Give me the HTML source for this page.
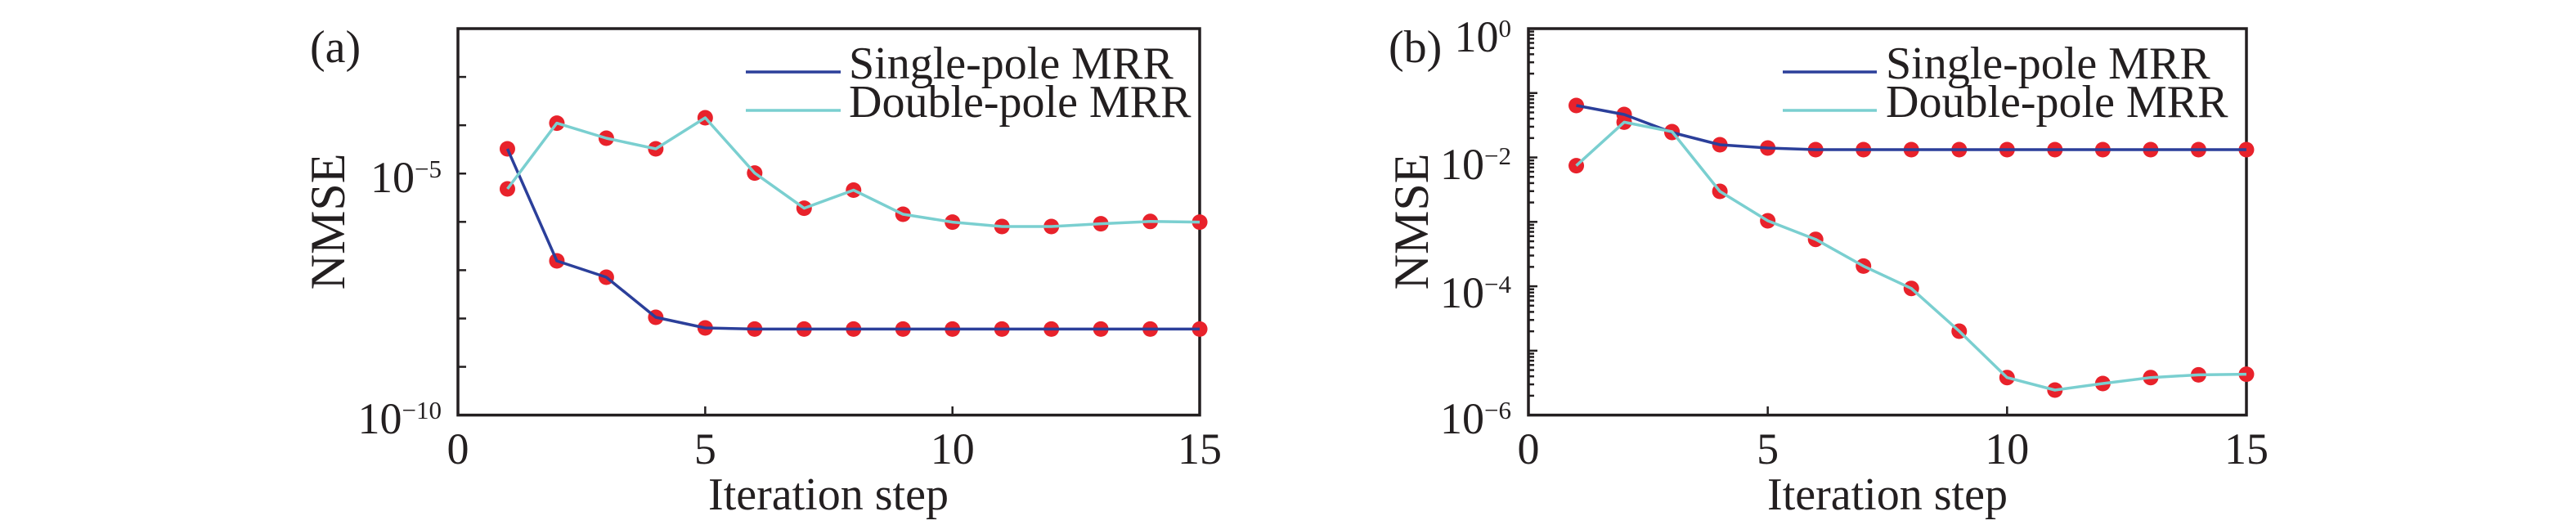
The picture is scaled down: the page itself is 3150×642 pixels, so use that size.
<!DOCTYPE html>
<html><head><meta charset="utf-8"><style>
html,body{margin:0;padding:0;background:#fff;width:3150px;height:642px;overflow:hidden}
svg{display:block}
text{font-family:"Liberation Serif",serif;fill:#231f20}
</style></head><body>
<svg id="s" width="3150" height="642" viewBox="0 0 3150 642" xmlns="http://www.w3.org/2000/svg">
<g id="ticks" stroke="#231f20" stroke-width="2.5"></g>
<!-- Panel a -->
<rect x="560" y="35" width="907" height="472.6" fill="none" stroke="#231f20" stroke-width="3.5"/>
<text x="379" y="76" font-size="56">(a)</text>
<text transform="translate(421,271) rotate(-90)" font-size="60" text-anchor="middle">NMSE</text>
<text x="540" y="235" font-size="54" text-anchor="end">10<tspan font-size="31" dy="-18">−5</tspan></text>
<text x="540" y="530" font-size="54" text-anchor="end">10<tspan font-size="31" dy="-18">−10</tspan></text>
<text x="560" y="567" font-size="54" text-anchor="middle">0</text>
<text x="862.4" y="567" font-size="54" text-anchor="middle">5</text>
<text x="1164.7" y="567" font-size="54" text-anchor="middle">10</text>
<text x="1467" y="567" font-size="54" text-anchor="middle">15</text>
<text x="1013" y="623" font-size="56" text-anchor="middle">Iteration step</text>
<line x1="912" y1="88" x2="1028" y2="88" stroke="#2b3f9a" stroke-width="3.5"/>
<line x1="912" y1="135" x2="1028" y2="135" stroke="#7acfd0" stroke-width="3.5"/>
<text x="1038" y="96" font-size="56">Single-pole MRR</text>
<text x="1038" y="143" font-size="56">Double-pole MRR</text>
<g id="da"></g>
<!-- Panel b -->
<rect x="1869" y="35" width="878" height="472.6" fill="none" stroke="#231f20" stroke-width="3.5"/>
<text x="1698" y="76" font-size="56">(b)</text>
<text transform="translate(1746,271) rotate(-90)" font-size="60" text-anchor="middle">NMSE</text>
<text x="1848" y="63" font-size="54" text-anchor="end">10<tspan font-size="31" dy="-18">0</tspan></text>
<text x="1848" y="219" font-size="54" text-anchor="end">10<tspan font-size="31" dy="-18">−2</tspan></text>
<text x="1848" y="376" font-size="54" text-anchor="end">10<tspan font-size="31" dy="-18">−4</tspan></text>
<text x="1848" y="530" font-size="54" text-anchor="end">10<tspan font-size="31" dy="-18">−6</tspan></text>
<text x="1869" y="567" font-size="54" text-anchor="middle">0</text>
<text x="2161.6" y="567" font-size="54" text-anchor="middle">5</text>
<text x="2454.3" y="567" font-size="54" text-anchor="middle">10</text>
<text x="2747" y="567" font-size="54" text-anchor="middle">15</text>
<text x="2308" y="623" font-size="56" text-anchor="middle">Iteration step</text>
<line x1="2180" y1="88" x2="2295" y2="88" stroke="#2b3f9a" stroke-width="3.5"/>
<line x1="2180" y1="135" x2="2295" y2="135" stroke="#7acfd0" stroke-width="3.5"/>
<text x="2306" y="96" font-size="56">Single-pole MRR</text>
<text x="2306" y="143" font-size="56">Double-pole MRR</text>
<g id="db"></g>
</svg>
<script>
var NS="http://www.w3.org/2000/svg";
function el(p,n,a){var e=document.createElementNS(NS,n);for(var k in a)e.setAttribute(k,a[k]);p.appendChild(e);return e;}
var T=document.getElementById("ticks");
for(var d=0;d<=8;d++){var y=35+59.08*d;el(T,"line",{x1:560,y1:y,x2:570,y2:y});}
[5,10,15].forEach(function(i){var x=560+60.47*i;el(T,"line",{x1:x,y1:507.6,x2:x,y2:497});});
for(var d=0;d<=6;d++){var y=35+78.77*d;el(T,"line",{x1:1869,y1:y,x2:1880,y2:y});}
for(var d=0;d<6;d++){for(var k=2;k<=9;k++){var y=35+78.77*(d+1)-78.77*Math.log10(k);el(T,"line",{x1:1869,y1:y,x2:1876,y2:y});}}
[5,10,15].forEach(function(i){var x=1869+58.53*i;el(T,"line",{x1:x,y1:507.6,x2:x,y2:497});});
function series(g,x0,dx,sy,dy){
  var ps=function(ys){return ys.map(function(y,i){return (x0+dx*(i+1)).toFixed(1)+","+y}).join(" ");};
  sy.forEach(function(y,i){el(g,"circle",{cx:x0+dx*(i+1),cy:y,r:9.5,fill:"#e8222b"});});
  dy.forEach(function(y,i){el(g,"circle",{cx:x0+dx*(i+1),cy:y,r:9.5,fill:"#e8222b"});});
  el(g,"polyline",{points:ps(sy),fill:"none",stroke:"#2b3f9a","stroke-width":3.5,"stroke-linejoin":"round"});
  el(g,"polyline",{points:ps(dy),fill:"none",stroke:"#7acfd0","stroke-width":3.5,"stroke-linejoin":"round"});
}
series(document.getElementById("da"),560,60.47,
 [182,319,339,388,401,402.4,402.4,402.4,402.4,402.4,402.4,402.4,402.4,402.4,402.4],
 [231,150.6,169,182,144,211.6,254.6,232.5,262,271.6,277,277,273.6,270.8,271.6]);
series(document.getElementById("db"),1869,58.53,
 [129,140,162,177,181,183,183,183,183,183,183,183,183,183,183],
 [202.6,149.4,161,234,270,292.7,325.4,352.7,405,461.7,477,469,461.7,458.4,457.6]);
</script>
</body></html>
